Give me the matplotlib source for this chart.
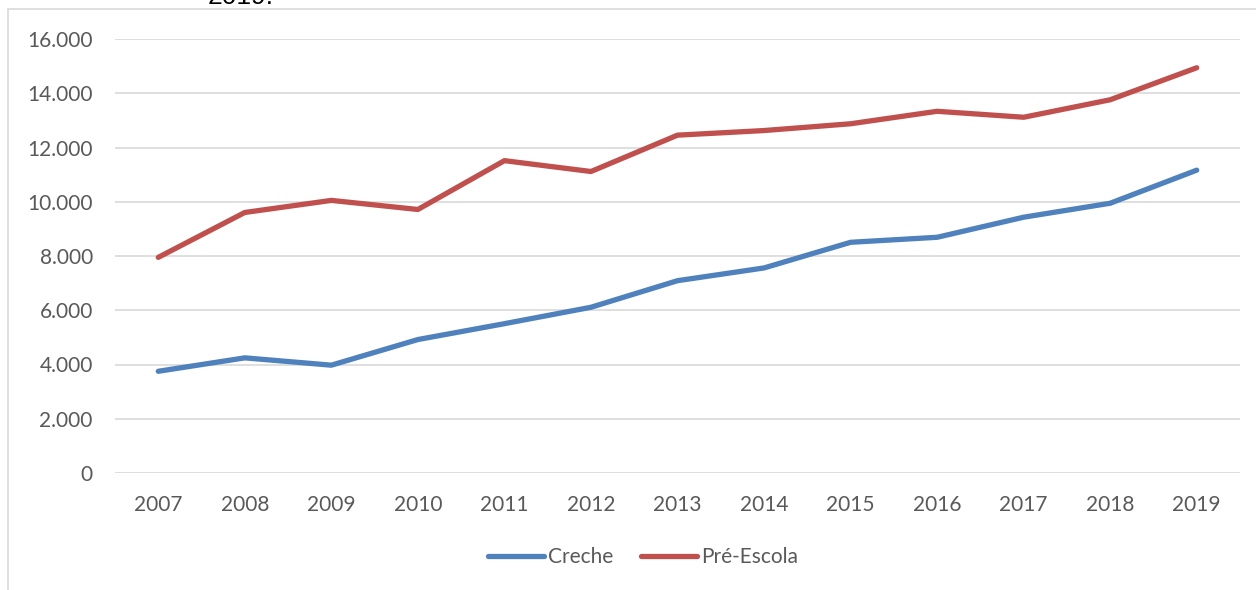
"""Matrículas em creche e pré-escola, 2007-2019."""
import matplotlib
matplotlib.use("Agg")
import matplotlib.pyplot as plt
from matplotlib.patches import Rectangle
from matplotlib.ticker import FuncFormatter

anos = ["2007", "2008", "2009", "2010", "2011", "2012", "2013",
        "2014", "2015", "2016", "2017", "2018", "2019"]
creche = [3750, 4245, 3975, 4920, 5505, 6110, 7090,
          7560, 8505, 8690, 9430, 9945, 11165]
pre_escola = [7950, 9605, 10050, 9715, 11515, 11115, 12455,
              12625, 12875, 13335, 13115, 13760, 14940]
series = [("Creche", creche, "#4F81BD"), ("Pré-Escola", pre_escola, "#C0504D")]

plt.rcParams["font.family"] = ["Lato", "DejaVu Sans"]

W, H = 1256, 590
fig = plt.figure(figsize=(W / 100, H / 100), dpi=100)
ax = fig.add_axes([115 / W, 1 - 473 / H, (1240 - 115) / W, (473 - 39) / H])

x = range(len(anos))
for nome, valores, cor in series:
    ax.plot(x, valores, color=cor, linewidth=3.8, solid_capstyle="round",
            solid_joinstyle="round", label=nome)

ax.set_xlim(-0.5, len(anos) - 0.5)
ax.set_ylim(0, 16000)
ax.set_yticks(range(0, 16001, 2000))
ax.yaxis.set_major_formatter(FuncFormatter(lambda v, _: f"{int(v):,}".replace(",", ".")))
ax.set_xticks(list(x), anos)

ax.grid(axis="y", color="#D9D9D9", linewidth=1.2)
ax.set_axisbelow(True)
for s in ax.spines.values():
    s.set_visible(False)
ax.tick_params(axis="both", length=0, labelsize=15, labelcolor="#595959")
ax.tick_params(axis="y", pad=16)
ax.tick_params(axis="x", pad=16)

ax.legend(loc="center", bbox_to_anchor=(643 / W, 1 - 557 / H), bbox_transform=fig.transFigure,
          ncol=2, frameon=False, fontsize=15, labelcolor="#595959",
          handlelength=2.7, handletextpad=0.2, columnspacing=1.3)

# borda do quadro do gráfico (cortada)
fig.add_artist(Rectangle((8 / W, -0.2), 1.2, 1.2 - 9 / H, transform=fig.transFigure,
                         fill=False, edgecolor="#D9D9D9", linewidth=1.2))

# título cortado no topo, como no original
fig.text(208 / W, 1 - 4 / H, "2019.", fontsize=19, family="Liberation Sans",
         color="black", va="baseline", ha="left")

fig.savefig("out.png", dpi=100, facecolor="white")
